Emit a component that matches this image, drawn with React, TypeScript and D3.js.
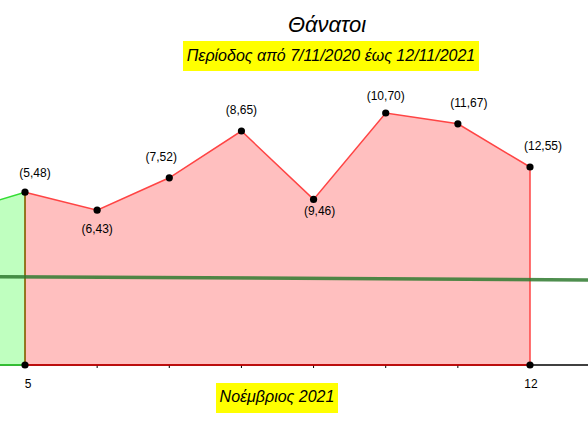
import * as d3 from "d3"

// days of November 2021 and the deaths recorded on each
const days = [5, 6, 7, 8, 9, 10, 11, 12]
const deaths = [48, 43, 52, 65, 46, 70, 67, 55]
// previous segment (shown in green, mostly cut off at the left edge)
const prevDays = [4, 5]
const prevDeaths = [42, 48]
// dark green reference line
const refDays = [4, 13]
const refValues = [24.6, 23.6]
// where each point label sits relative to its point
const labelDx = [10, 0, -8, 0, 6, 0, 11, 13]
const labelDy = [-15, 23, -17, -17, 16, -13, -17, -17]

const title = "Θάνατοι"
const subtitle = "Περίοδος από 7/11/2020 έως 12/11/2021"
const xLabel = "Νοέμβριος 2021"

export default function App() {
  const width = 588
  const height = 423

  const x = d3.scaleLinear().domain([5, 12]).range([25, 530])
  const y = d3.scaleLinear().domain([0, 70]).range([365, 113])

  const pts = days.map((d, i) => ({ d, v: deaths[i] }))
  const prev = prevDays.map((d, i) => ({ d, v: prevDeaths[i] }))

  const area = d3
    .area<{ d: number; v: number }>()
    .x((p) => x(p.d))
    .y0(y(0))
    .y1((p) => y(p.v))

  const line = d3
    .line<{ d: number; v: number }>()
    .x((p) => x(p.d))
    .y((p) => y(p.v))

  const redPoly = area(pts) + "Z"
  const greenPoly = area(prev) + "Z"
  const ticks = d3.range(5, 13)
  const font = "'Liberation Sans', Arial, sans-serif"

  return (
    <svg
      width={width}
      height={height}
      style={{ position: "absolute", left: 0, top: 0, background: "#fff" }}
      fontFamily={font}
    >
      {/* x axis */}
      <line x1={0} x2={width} y1={y(0)} y2={y(0)} stroke="#000" strokeWidth={1.5} />
      {ticks.map((t) => (
        <line key={t} x1={x(t)} x2={x(t)} y1={y(0)} y2={y(0) + 3} stroke="#000" strokeWidth={1} />
      ))}

      {/* green previous region */}
      <path d={greenPoly} fill="rgba(0,255,0,0.25)" stroke="#33dd33" strokeWidth={1.5} />
      {/* red current region */}
      <path d={redPoly} fill="rgba(255,0,0,0.25)" stroke="none" />
      <path d={line(pts) ?? ""} fill="none" stroke="#ff4444" strokeWidth={1.5} />
      <line x1={x(12)} x2={x(12)} y1={y(55)} y2={y(0)} stroke="#ff4444" strokeWidth={1.5} />
      <line x1={x(5)} x2={x(5)} y1={y(48)} y2={y(0)} stroke="#a05a10" strokeWidth={1.5} />
      <line x1={x(5)} x2={x(12)} y1={y(0)} y2={y(0)} stroke="#dd0000" strokeWidth={1.5} />

      {/* reference line */}
      <line
        x1={x(refDays[0])}
        x2={x(refDays[1])}
        y1={y(refValues[0])}
        y2={y(refValues[1])}
        stroke="#2f7a2f"
        strokeOpacity={0.85}
        strokeWidth={3.5}
      />

      {/* points and labels */}
      {pts.map((p, i) => (
        <g key={p.d}>
          <circle cx={x(p.d)} cy={y(p.v)} r={3.6} fill="#000" />
          <text
            x={x(p.d) + labelDx[i]}
            y={y(p.v) + labelDy[i]}
            textAnchor="middle"
            fontSize={12}
            fill="#000"
          >
            ({p.d},{p.v})
          </text>
        </g>
      ))}
      <circle cx={x(5)} cy={y(0)} r={3.6} fill="#000" />
      <circle cx={x(12)} cy={y(0)} r={3.6} fill="#000" />

      {/* axis numbers */}
      <text x={x(5) + 3} y={388} textAnchor="middle" fontSize={12}>
        5
      </text>
      <text x={x(12) + 1} y={388} textAnchor="middle" fontSize={12}>
        12
      </text>

      {/* titles */}
      <text x={327} y={32} textAnchor="middle" fontSize={22} fontStyle="italic">
        {title}
      </text>
      <rect x={183} y={41} width={296} height={30} fill="#ffff00" />
      <text x={331} y={61} textAnchor="middle" fontSize={16} fontStyle="italic">
        {subtitle}
      </text>
      <rect x={216} y={383} width={122} height={30} fill="#ffff00" />
      <text x={277} y={402} textAnchor="middle" fontSize={16} fontStyle="italic">
        {xLabel}
      </text>
    </svg>
  )
}
